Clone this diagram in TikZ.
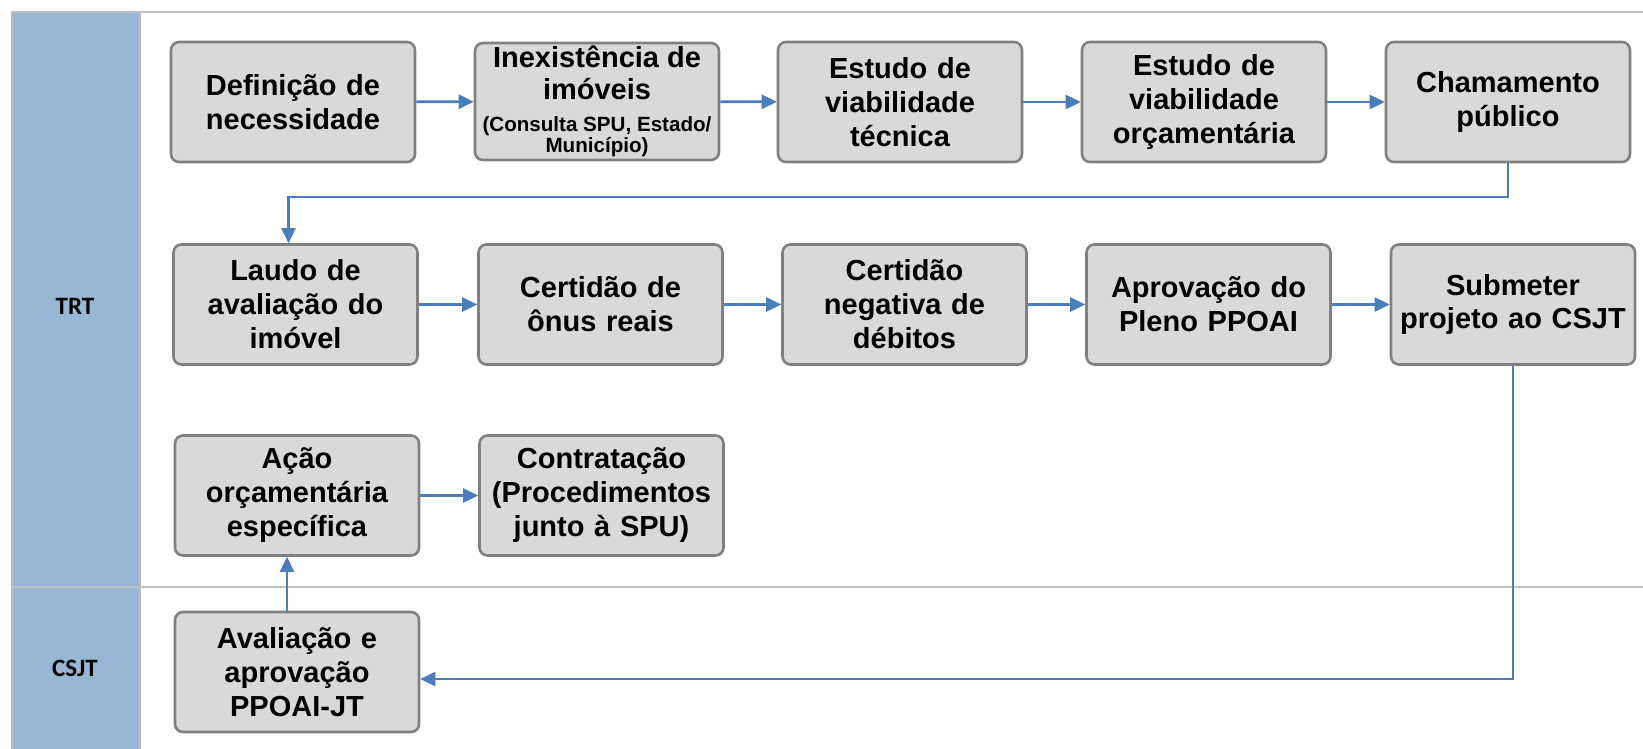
\documentclass[tikz,border=0pt]{standalone}
\usepackage{fontspec}
\setmainfont{Liberation Sans}
\newfontfamily\lanefont{Carlito}
\usepackage{tikz}
\usetikzlibrary{arrows.meta}

\definecolor{laneblue}{RGB}{152,183,213}
\definecolor{lanegray}{RGB}{191,191,191}
\definecolor{boxgray}{RGB}{217,217,217}
\definecolor{boxline}{RGB}{128,128,128}
\definecolor{flowblue}{RGB}{74,126,187}

\begin{document}
\begin{tikzpicture}[x=0.5pt, y=-0.5pt,
    etapa/.style={draw=boxline, line width=1.3pt, fill=boxgray, rounded corners=4pt,
        minimum width=122pt, minimum height=60pt, inner sep=1pt, text width=120pt,
        align=center, font=\bfseries\fontsize{14.5}{17}\selectfont},
    fluxo/.style={draw=flowblue, line width=1.3pt, -{Triangle[length=7.5pt,width=7pt]}},
    raia/.style={font=\lanefont\bfseries\fontsize{12.5}{15}\selectfont}]
\useasboundingbox (0,0) rectangle (1643,749);
%
\fill [laneblue] (12,12) rectangle (140,749);
\draw [lanegray, line width=1pt] (12,749) -- (12,12) -- (1643,12);
\draw [lanegray, line width=1pt] (140,12) -- (140,749);
\draw [lanegray, line width=1pt] (12,587) -- (1643,587);
\node [raia] (trt) at (75,306) {TRT};
\node [raia] (csjt) at (75,668) {CSJT};
%
\node [etapa] (definicao) at (293,102) {Definição de\\necessidade};
\node [etapa, minimum height=58.5pt, text width=, inner sep=0pt] (inexistencia) at (597,101.5)
    {Inexistência de\\[-1pt]imóveis\\[-1pt]{\fontsize{10.3}{11}\selectfont(Consulta SPU, Estado/}\\[-6.5pt]{\fontsize{10.3}{11}\selectfont Município)}};
\node [etapa] (tecnica) at (900,102) {Estudo de\\viabilidade\\técnica};
\node [etapa] (orcamentaria) at (1204,102) {Estudo de\\viabilidade\\orçamentária};
\node [etapa] (chamamento) at (1508,102) {Chamamento\\público};
%
\node [etapa] (laudo) at (295.5,304.5) {Laudo de\\avaliação do\\imóvel};
\node [etapa] (onus) at (600.5,304.5) {Certidão de\\ônus reais};
\node [etapa] (debitos) at (904.5,304.5) {Certidão\\negativa de\\débitos};
\node [etapa] (pleno) at (1208.5,304.5) {Aprovação do\\Pleno PPOAI};
\node [etapa] (submeter) at (1513,304.5) {Submeter\\projeto ao CSJT};
%
\node [etapa] (acao) at (297,495.5) {Ação\\orçamentária\\específica};
\node [etapa] (contratacao) at (601.5,495.5) {Contratação\\(Procedimentos\\junto à SPU)};
\node [etapa] (avaliacao) at (297,672) {Avaliação e\\aprovação\\PPOAI-JT};
%
\draw [fluxo] (definicao) -- (inexistencia);
\draw [fluxo] (inexistencia) -- (tecnica);
\draw [fluxo] (tecnica) -- (orcamentaria);
\draw [fluxo] (orcamentaria) -- (chamamento);
\coordinate (volta) at (0,197);
\draw [fluxo] (chamamento.south) -- (chamamento.south |- volta) -| ([xshift=-3.5pt]laudo.north);
%
\draw [fluxo] (laudo) -- (onus);
\draw [fluxo] (onus) -- (debitos);
\draw [fluxo] (debitos) -- (pleno);
\draw [fluxo] (pleno) -- (submeter);
\draw [fluxo] (submeter.south) |- ([yshift=-3.5pt]avaliacao.east);
%
\draw [fluxo] ([xshift=-5pt]avaliacao.north) -- ([xshift=-5pt]acao.south);
\draw [fluxo] (acao) -- (contratacao);
%%%%%%%%%%%%%%%%%%%%%%%%%%%%%%%
\end{tikzpicture}
\end{document}
